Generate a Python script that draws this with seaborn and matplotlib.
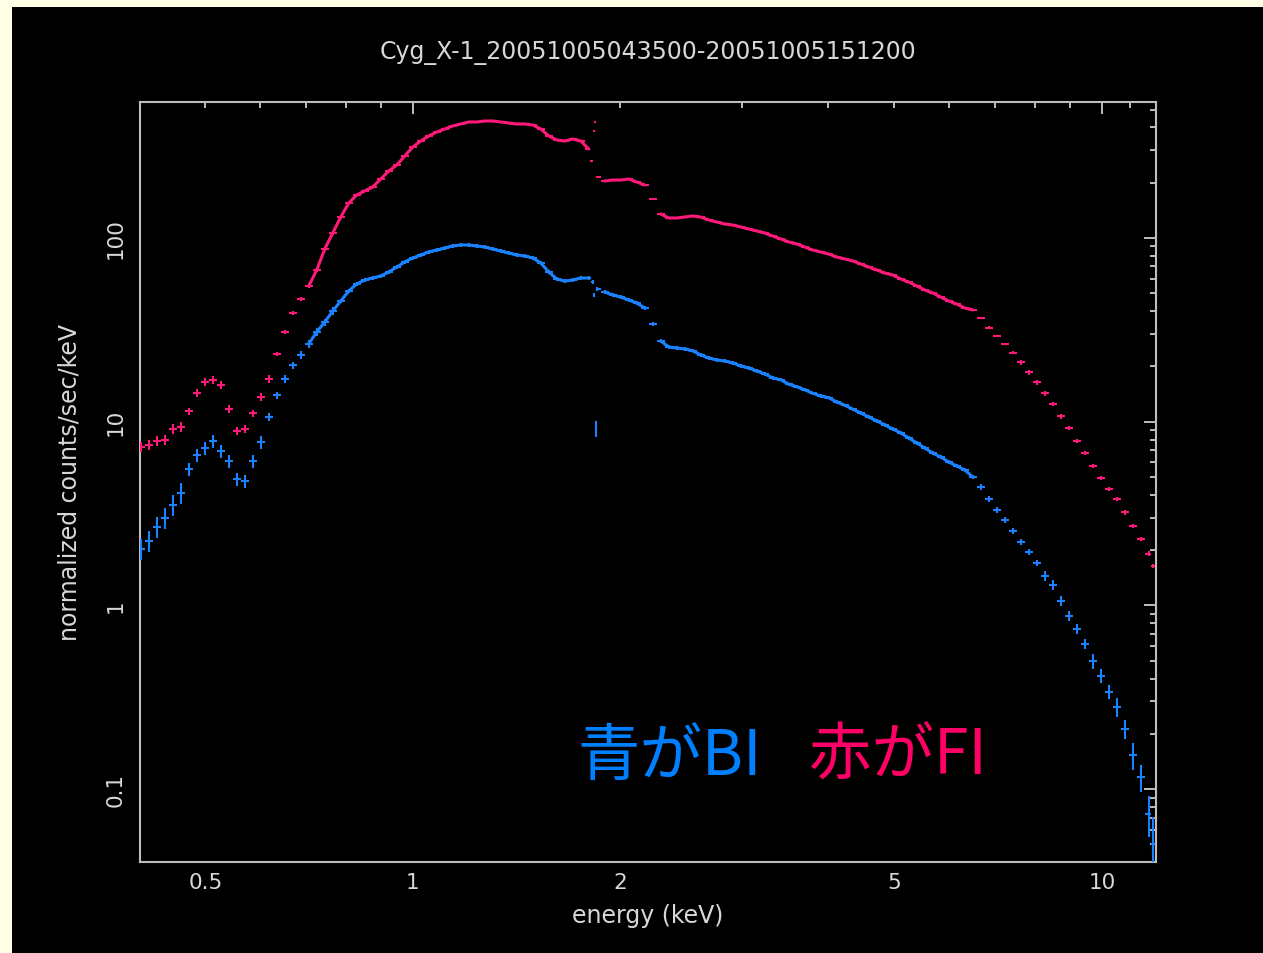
import numpy as np
import pandas as pd
import matplotlib
matplotlib.use("Agg")
import matplotlib.pyplot as plt
from matplotlib.patches import Rectangle
from matplotlib.ticker import FixedLocator, FixedFormatter, NullFormatter, LogLocator
import seaborn as sns

# ---------------------------------------------------------------- data
title = "Cyg_X-1_20051005043500-20051005151200"

# FI (front illuminated) spectrum: bin centre energy [keV] and rate
fi_energy = [
    0.4029, 0.4138, 0.4250, 0.4365, 0.4484, 0.4605, 0.4730, 0.4858, 0.4989, 0.5125,
    0.5263, 0.5406, 0.5553, 0.5703, 0.5858, 0.6016, 0.6180, 0.6347, 0.6519, 0.6696,
    0.6877, 0.7064, 0.7256, 0.7452, 0.7655, 0.7862, 0.8075, 0.8293, 0.8518, 0.8749,
    0.8986, 0.9230, 0.9480, 0.9736, 1.0000, 1.0271, 1.0549, 1.0835, 1.1129, 1.1430,
    1.1740, 1.2058, 1.2385, 1.2720, 1.3065, 1.3419, 1.3783, 1.4156, 1.4540, 1.4934,
    1.5338, 1.5754, 1.6181, 1.6619, 1.7070, 1.7532, 1.8007,
    1.8190, 1.8314, 1.8375, 1.8494,
    1.8995, 1.9510, 2.0038, 2.0581, 2.1139, 2.1711, 2.2299, 2.2903, 2.3524, 2.4161,
    2.4816, 2.5488, 2.6178, 2.6887, 2.7616, 2.8364, 2.9132, 2.9921, 3.0731, 3.1564,
    3.2419, 3.3297, 3.4199, 3.5125, 3.6076, 3.7054, 3.8057, 3.9088, 4.0147, 4.1234,
    4.2351, 4.3498, 4.4676, 4.5886, 4.7129, 4.8406, 4.9717, 5.1064, 5.2447, 5.3867,
    5.5326, 5.6825, 5.8364, 5.9945, 6.1569, 6.3236, 6.4949, 6.6708, 6.8515, 7.0371,
    7.2277, 7.4235, 7.6245, 7.8311, 8.0432, 8.2610, 8.4848, 8.7146, 8.9506, 9.1931,
    9.4421, 9.6979, 9.9605, 10.230, 10.507, 10.792, 11.084, 11.385, 11.693, 11.860,
]
fi_rate = [
    7.28, 7.47, 7.85, 7.95, 9.13, 9.36, 11.43, 14.33, 16.45, 16.87,
    15.84, 11.73, 8.90, 9.13, 11.15, 13.63, 17.08, 23.36, 30.78, 39.06,
    46.56, 54.78, 66.96, 87.1, 106.5, 130.1, 155.0, 171.5, 180.3, 189.5,
    209.5, 231.6, 249.6, 279.5, 312.9, 337.3, 359.2, 377.6, 392.2, 407.2,
    417.5, 428.1, 428.1, 433.5, 433.5, 428.1, 422.7, 417.5, 417.5, 412.3,
    392.2, 359.2, 341.6, 337.3, 345.9, 337.3, 305.1,
    262.6, 382.4, 428.1, 214.8,
    204.3, 206.9, 206.9, 209.5, 201.8, 194.3, 163.0, 135.1, 128.5, 128.5,
    130.1, 131.8, 130.1, 125.3, 122.2, 119.2, 117.7, 114.8, 111.9, 109.2,
    106.5, 102.5, 98.76, 95.1, 92.8, 89.3, 86.0, 83.9, 81.8, 78.8,
    76.9, 75.0, 72.2, 69.5, 66.96, 64.5, 62.9, 59.8, 57.6, 54.78,
    52.1, 50.2, 47.7, 45.4, 43.7, 41.6, 40.6, 36.7, 32.4, 29.3,
    26.5, 23.7, 21.1, 18.6, 16.4, 14.3, 12.5, 10.7, 9.24, 7.85,
    6.75, 5.74, 4.94, 4.30, 3.80, 3.22, 2.71, 2.30, 1.91, 1.64,
]
# relative 1-sigma errors of the FI rates
fi_relerr = ([0.06] * 6 + [0.045] * 11 + [0.025] * 8 + [0.012] * 32 +
             [0.015] * 4 + [0.012] * 47 + [0.018] * 5 + [0.03] * 18)

# BI (back illuminated) spectrum
bi_energy = [
    0.4029, 0.4138, 0.4250, 0.4365, 0.4484, 0.4605, 0.4730, 0.4858, 0.4989, 0.5125,
    0.5263, 0.5406, 0.5553, 0.5703, 0.5858, 0.6016, 0.6180, 0.6347, 0.6519, 0.6696,
    0.6877, 0.7064, 0.7256, 0.7452, 0.7655, 0.7862, 0.8075, 0.8293, 0.8518, 0.8749,
    0.8986, 0.9230, 0.9480, 0.9736, 1.0000, 1.0271, 1.0549, 1.0835, 1.1129, 1.1430,
    1.1740, 1.2058, 1.2385, 1.2720, 1.3065, 1.3419, 1.3783, 1.4156, 1.4540, 1.4934,
    1.5338, 1.5754, 1.6181, 1.6619, 1.7070, 1.7532, 1.8007,
    1.8253, 1.8314, 1.8436, 1.8494,
    1.8995, 1.9510, 2.0038, 2.0581, 2.1139, 2.1711, 2.2299, 2.2903, 2.3524, 2.4161,
    2.4816, 2.5488, 2.6178, 2.6887, 2.7616, 2.8364, 2.9132, 2.9921, 3.0731, 3.1564,
    3.2419, 3.3297, 3.4199, 3.5125, 3.6076, 3.7054, 3.8057, 3.9088, 4.0147, 4.1234,
    4.2351, 4.3498, 4.4676, 4.5886, 4.7129, 4.8406, 4.9717, 5.1064, 5.2447, 5.3867,
    5.5326, 5.6825, 5.8364, 5.9945, 6.1569, 6.3236, 6.4949, 6.6708, 6.8515, 7.0371,
    7.2277, 7.4235, 7.6245, 7.8311, 8.0432, 8.2610, 8.4848, 8.7146, 8.9506, 9.1931,
    9.4421, 9.6979, 9.9605, 10.230, 10.507, 10.792, 11.084, 11.385, 11.693, 11.860,
]
bi_rate = [
    2.028, 2.242, 2.672, 2.991, 3.520, 4.091, 5.527, 6.588, 7.192, 7.85,
    6.927, 6.109, 4.876, 4.756, 6.109, 7.753, 10.61, 13.97, 17.08, 20.35,
    23.07, 26.5, 30.78, 34.88, 40.05, 45.4, 51.45, 56.18, 59.07, 60.57,
    62.11, 65.30, 69.5, 74.04, 77.84, 80.83, 83.9, 86.0, 88.2, 90.5,
    91.6, 91.6, 90.5, 89.3, 87.1, 84.95, 82.84, 80.83, 79.8, 77.84,
    73.1, 65.30, 59.8, 58.3, 59.07, 60.57, 60.57,
    57.6, 48.95, 9.13, 52.78,
    50.8, 48.95, 47.7, 45.97, 44.28, 41.6, 34.02, 27.5, 25.5, 25.2,
    24.9, 24.3, 23.07, 22.2, 21.7, 21.4, 20.9, 20.1, 19.6, 18.9,
    18.2, 17.3, 16.9, 16.0, 15.5, 14.9, 14.3, 13.8, 13.5, 12.8,
    12.3, 11.7, 11.15, 10.6, 10.1, 9.60, 9.13, 8.68, 8.15, 7.66,
    7.19, 6.75, 6.42, 6.03, 5.74, 5.46, 5.00, 4.41, 3.80, 3.31,
    2.92, 2.54, 2.21, 1.95, 1.70, 1.45, 1.29, 1.057, 0.876, 0.744,
    0.616, 0.498, 0.413, 0.338, 0.280, 0.212, 0.153, 0.116, 0.0732, 0.0502,
]
bi_relerr = ([0.13] * 6 + [0.08] * 10 + [0.045] * 9 + [0.02] * 32 +
             [0.03, 0.03, 0.10, 0.03] + [0.02] * 47 + [0.04] * 8 +
             [0.06] * 6 + [0.09] * 3 + [0.12] * 2 + [0.17] * 2 + [0.25, 0.40])

# energy ranges where the densely binned data merge into a continuous trace
dense_ranges = [(0.70, 1.805), (1.89, 2.175), (2.28, 6.55)]

x_major = [1, 10]
x_minor = [0.4, 0.5, 0.6, 0.7, 0.8, 0.9, 2, 3, 4, 5, 6, 7, 8, 9, 11]
x_minor_labels = ["", "0.5", "", "", "", "", "2", "", "", "5", "", "", "", "", ""]
y_major = [0.1, 1, 10, 100]
y_major_labels = ["0.1", "1", "10", "100"]

# ---------------------------------------------------------------- style
sns.set_theme(style="dark")
plt.rcParams["font.family"] = ["DejaVu Sans", "Noto Sans CJK JP"]

FG = "#d8d8d8"
AXC = "#bdbdbd"
FI_COLOR = "#ff1a7a"
BI_COLOR = "#1a82ff"

fig = plt.figure(figsize=(12.63, 9.54), dpi=100)
fig.patch.set_facecolor("#ffffe6")
fig.add_artist(Rectangle((12 / 1263, 0), 1.0, (954 - 8) / 954,
                         transform=fig.transFigure, facecolor="black",
                         edgecolor="none", zorder=0))

ax = fig.add_axes([140 / 1263, (954 - 863) / 954, 1016 / 1263, 760 / 954])
ax.set_facecolor("black")
ax.grid(False)


def bin_half_widths(e):
    e = np.asarray(e, dtype=float)
    mids = np.sqrt(e[:-1] * e[1:])
    lo = np.concatenate([[e[0] ** 2 / mids[0]], mids])
    hi = np.concatenate([mids, [e[-1] ** 2 / mids[-1]]])
    return e - lo, hi - e


frames = []
for name, e, r, rel in [("FI", fi_energy, fi_rate, fi_relerr),
                        ("BI", bi_energy, bi_rate, bi_relerr)]:
    frames.append(pd.DataFrame({"energy": e, "rate": r, "relerr": rel,
                                "detector": name}))
spec = pd.concat(frames, ignore_index=True)
palette = {"FI": FI_COLOR, "BI": BI_COLOR}

# segment id for the continuous trace (-1 = drawn as isolated crosses only)
seg = np.full(len(spec), -1)
for i, (a, b) in enumerate(dense_ranges):
    seg[(spec["energy"] >= a).to_numpy() & (spec["energy"] <= b).to_numpy()] = i
spec["segment"] = seg

for name, grp in spec.groupby("detector"):
    xl, xh = bin_half_widths(grp["energy"])
    yerr = grp["rate"].to_numpy() * grp["relerr"].to_numpy()
    ax.errorbar(grp["energy"], grp["rate"], xerr=[xl, xh], yerr=yerr,
                fmt="none", ecolor=palette[name], elinewidth=1.5, capsize=0,
                zorder=3)

trace = spec[spec["segment"] >= 0]
sns.lineplot(data=trace, x="energy", y="rate", hue="detector", units="segment",
             estimator=None, sort=False, palette=palette,
             linewidth=2.2, legend=False, ax=ax, zorder=4)

ax.set_xscale("log")
ax.set_yscale("log")
ax.set_xlim(0.402, 11.98)
ax.set_ylim(0.0401, 550)

# ticks: inward on all four sides, long at decades
ax.xaxis.set_major_locator(FixedLocator(x_major))
ax.xaxis.set_major_formatter(FixedFormatter([str(v) for v in x_major]))
ax.xaxis.set_minor_locator(FixedLocator(x_minor))
ax.xaxis.set_minor_formatter(FixedFormatter(x_minor_labels))
ax.yaxis.set_major_locator(FixedLocator(y_major))
ax.yaxis.set_major_formatter(FixedFormatter(y_major_labels))
ax.yaxis.set_minor_locator(LogLocator(base=10, subs=np.arange(2, 10)))
ax.yaxis.set_minor_formatter(NullFormatter())

ax.tick_params(which="both", direction="in", top=True, right=True,
               color=AXC, width=1.4, labelcolor=FG, labelsize=15.5)
ax.tick_params(which="major", length=8.5)
ax.tick_params(which="minor", length=4.3)
ax.tick_params(axis="x", which="both", pad=7.5)
ax.tick_params(axis="y", which="both", pad=10, labelrotation=90)
for lab in ax.get_yticklabels():
    lab.set_va("center")

for sp in ax.spines.values():
    sp.set_color(AXC)
    sp.set_linewidth(1.5)
    sp.set_visible(True)

ax.text(0.5, (863 - 53) / 760, title, transform=ax.transAxes,
        ha="center", va="center", color=FG, fontsize=17)
ax.set_xlabel("energy (keV)", color=FG, fontsize=17, va="center")
ax.xaxis.set_label_coords(0.5, (863 - 916) / 760)
ax.set_ylabel("normalized counts/sec/keV", color=FG, fontsize=17, va="center")
ax.yaxis.set_label_coords((70 - 140) / 1016, 0.5)

cjk = ["Noto Sans CJK JP", "DejaVu Sans"]
ax.text((577 - 140) / 1016, (863 - 775) / 760, "青がBI", transform=ax.transAxes,
        ha="left", va="baseline", color="#0080ff", fontsize=45, family=cjk)
ax.text((809 - 140) / 1016, (863 - 775) / 760, "赤がFI", transform=ax.transAxes,
        ha="left", va="baseline", color="#ff0066", fontsize=45, family=cjk)

fig.savefig("out.png", dpi=100, facecolor=fig.get_facecolor())
